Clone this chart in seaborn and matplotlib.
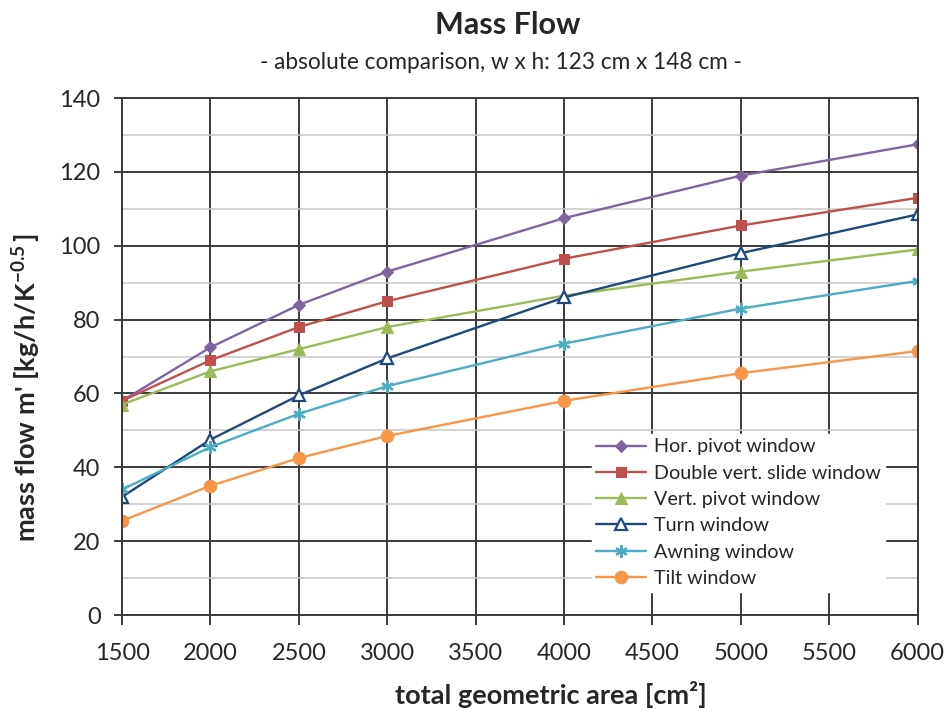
import matplotlib
matplotlib.use("Agg")
import matplotlib.pyplot as plt
import seaborn as sns
import pandas as pd
from matplotlib.ticker import MultipleLocator

areas = [1500, 2000, 2500, 3000, 4000, 5000, 6000]
hor_pivot = [58, 72.5, 84, 93, 107.5, 119, 127.5]
double_vert_slide = [58, 69, 78, 85, 96.5, 105.5, 113]
vert_pivot = [57, 66, 72, 78, 86.5, 93, 99]
turn = [32, 47.5, 59.5, 69.5, 86, 98, 108.5]
awning = [34, 45.5, 54.5, 62, 73.5, 83, 90.5]
tilt = [25.5, 35, 42.5, 48.5, 58, 65.5, 71.5]

names = ["Hor. pivot window", "Double vert. slide window", "Vert. pivot window",
         "Turn window", "Awning window", "Tilt window"]
series = [hor_pivot, double_vert_slide, vert_pivot, turn, awning, tilt]
colors = ["#8064A2", "#C0504D", "#9BBB59", "#1F497D", "#4BACC6", "#F79646"]
markers = ["D", "s", "^", "^", (6, 2, 0), "o"]
msizes = [6, 7, 8, 8, 9, 9]

sns.set_theme(style="white")
plt.rcParams['font.family'] = ['Lato', 'DejaVu Sans']
plt.rcParams['mathtext.fontset'] = 'custom'
plt.rcParams['mathtext.rm'] = 'Lato'
plt.rcParams['mathtext.bf'] = 'Lato:bold'
plt.rcParams['mathtext.default'] = 'bf'

fig = plt.figure(figsize=(9.46, 7.11), dpi=100)
ax = fig.add_axes([0.129, 0.135, 0.841, 0.727])

for name, vals, c, m, ms in zip(names, series, colors, markers, msizes):
    df = pd.DataFrame({"area": areas, "flow": vals})
    kw = dict(marker=m, markersize=ms, color=c, linewidth=1.7, label=name,
              markeredgecolor=c)
    if name == "Turn window":
        kw.update(markerfacecolor="white", markeredgewidth=1.6)
    elif name == "Awning window":
        kw.update(markeredgewidth=1.6)
    else:
        kw.update(markerfacecolor=c)
    sns.lineplot(data=df, x="area", y="flow", ax=ax, **kw)

ax.set_xlim(1500, 6000)
ax.set_ylim(0, 140)
ax.xaxis.set_major_locator(MultipleLocator(500))
ax.yaxis.set_major_locator(MultipleLocator(20))
ax.yaxis.set_minor_locator(MultipleLocator(10))
ax.grid(which="major", axis="both", color="#3a3a3a", linewidth=1.4)
ax.grid(which="minor", axis="y", color="#c8c8c8", linewidth=1.1)
ax.set_axisbelow(True)
for s in ax.spines.values():
    s.set_color("#3a3a3a")
    s.set_linewidth(1.4)
ax.tick_params(axis="both", which="major", direction="out", width=1.4,
               color="#3a3a3a", labelsize=17, bottom=True, left=True)
ax.tick_params(axis="x", which="major", length=7.5, pad=13)
ax.tick_params(axis="y", which="major", length=5.5, pad=10)
ax.tick_params(axis="y", which="minor", length=0)

ax.set_xlabel("total geometric area [cm²]", fontsize=19.5, fontweight="bold")
ax.xaxis.set_label_coords(0.539, -0.128)
ax.set_ylabel("mass flow m' [kg/h/K$^{-0.5}$\u2009]", fontsize=19.5, fontweight="bold")
ax.yaxis.set_label_coords(-0.099, 0.44)

fig.text(0.537, 0.965, "Mass Flow", ha="center", va="center", fontsize=22, fontweight="bold")
fig.text(0.53, 0.912, "- absolute comparison, w x h: 123 cm x 148 cm -", ha="center",
         va="center", fontsize=16.3)

leg = ax.legend(loc="lower right", bbox_to_anchor=(0.972, 0.026), frameon=True,
                fontsize=14.2, handlelength=2.5, labelspacing=0.47, borderpad=0.25,
                handletextpad=0.4)
leg.get_frame().set_edgecolor("white")
leg.get_frame().set_facecolor("white")
leg.get_frame().set_alpha(1)

fig.savefig("out.png", dpi=100)
